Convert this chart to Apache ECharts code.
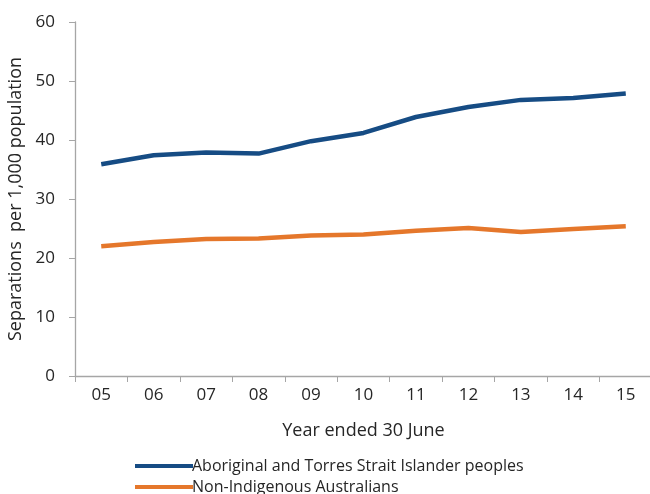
<!DOCTYPE html>
<html><head><meta charset="utf-8">
<script src="https://cdn.jsdelivr.net/npm/echarts@6/dist/echarts.min.js"></script>
<style>html,body{margin:0;padding:0;background:#fff}#c{width:650px;height:494px}</style>
</head><body><div id="c"></div>
<script>
const categories = ['05','06','07','08','09','10','11','12','13','14','15'];
const indigenous = [35.9, 37.4, 37.9, 37.7, 39.8, 41.2, 43.9, 45.6, 46.8, 47.1, 47.9];
const nonIndigenous = [22.0, 22.7, 23.2, 23.3, 23.8, 24.0, 24.6, 25.1, 24.4, 24.9, 25.4];
const seriesNames = ['Aboriginal and Torres Strait Islander peoples', 'Non-Indigenous Australians'];
const yTicks = [0, 10, 20, 30, 40, 50, 60];

const font = '"Open Sans", sans-serif';
const legendBase = {
  orient: 'horizontal', left: 135, padding: 0,
  itemWidth: 58, itemHeight: 16,
  icon: 'path://M0,6 L58,6 L58,10 L0,10 Z',
  textStyle: {fontFamily: font, fontSize: 16, color: '#262626', padding: [0,0,0,-6]}
};
const chart = echarts.init(document.getElementById('c'), null, {renderer: 'canvas'});
chart.setOption({
  animation: false,
  textStyle: {fontFamily: font},
  grid: {left: 75, right: -2, top: 22, bottom: 118, containLabel: false, outerBoundsMode: 'none'},
  legend: [
    Object.assign({}, legendBase, {top: 458, data: [seriesNames[0]]}),
    Object.assign({}, legendBase, {top: 479, data: [seriesNames[1]]})
  ],
  xAxis: {
    type: 'category', data: categories, boundaryGap: true,
    name: 'Year ended 30 June', nameLocation: 'middle', nameGap: 46,
    nameTextStyle: {fontFamily: font, fontSize: 18, color: '#262626'},
    axisLine: {lineStyle: {color: '#a6a6a6', width: 1.3}},
    axisTick: {show: true, inside: false, length: 6, lineStyle: {color: '#a6a6a6'}},
    axisLabel: {fontFamily: font, fontSize: 17, color: '#262626', margin: 11}
  },
  yAxis: {
    type: 'value', min: yTicks[0], max: yTicks[yTicks.length-1], interval: 10,
    name: 'Separations  per 1,000 population', nameLocation: 'middle', nameGap: 48,
    nameTextStyle: {fontFamily: font, fontSize: 18, color: '#262626'},
    axisLine: {show: true, lineStyle: {color: '#a6a6a6', width: 1.3}},
    axisTick: {show: true, length: 6, lineStyle: {color: '#a6a6a6'}},
    splitLine: {show: false},
    axisLabel: {fontFamily: font, fontSize: 17, color: '#262626', margin: 20}
  },
  series: [
    {name: seriesNames[0], type: 'line', data: indigenous, symbol: 'none',
     lineStyle: {color: '#164C84', width: 4.5}, itemStyle: {color: '#164C84'}},
    {name: seriesNames[1], type: 'line', data: nonIndigenous, symbol: 'none',
     lineStyle: {color: '#E5772B', width: 4.5}, itemStyle: {color: '#E5772B'}}
  ]
});
</script></body></html>
